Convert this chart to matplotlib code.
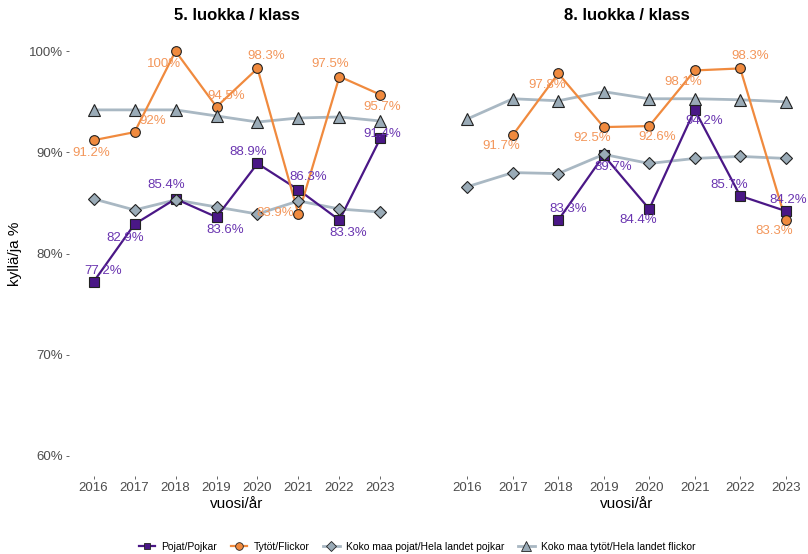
import numpy as np
import matplotlib
matplotlib.use("Agg")
import matplotlib.pyplot as plt
from matplotlib.lines import Line2D

plt.rcParams['font.family'] = ['Liberation Sans', 'DejaVu Sans']

years = [2016, 2017, 2018, 2019, 2020, 2021, 2022, 2023]
nan = np.nan

# 5. luokka / klass
g5_pojat = [77.2, 82.9, 85.4, 83.6, 88.9, 86.3, 83.3, 91.4]
g5_tytot = [91.2, 92.0, 100.0, 94.5, 98.3, 83.9, 97.5, 95.7]
g5_koko_pojat = [85.4, 84.3, 85.3, 84.6, 83.9, 85.2, 84.4, 84.1]
g5_koko_tytot = [94.2, 94.2, 94.2, 93.6, 93.0, 93.4, 93.5, 93.1]

# 8. luokka / klass
g8_pojat = [nan, nan, 83.3, 89.7, 84.4, 94.2, 85.7, 84.2]
g8_tytot = [nan, 91.7, 97.8, 92.5, 92.6, 98.1, 98.3, 83.3]
g8_koko_pojat = [86.6, 88.0, 87.9, 89.8, 88.9, 89.4, 89.6, 89.4]
g8_koko_tytot = [93.3, 95.3, 95.1, 96.0, 95.3, 95.3, 95.2, 95.0]

titles = ["5. luokka / klass", "8. luokka / klass"]
series_names = ["Pojat/Pojkar", "Tytöt/Flickor",
                "Koko maa pojat/Hela landet pojkar", "Koko maa tytöt/Hela landet flickor"]

# label offsets in points (dx, dy), purely for placement
off5_pojat = [(7, 8), (-7, -10), (-7, 10), (6, -9), (-7, 8), (7, 9), (6, -9), (1, 3)]
off5_tytot = [(-2, -9), (13, 8), (-8, -9), (7, 8), (6, 9), (-17, 1), (-7, 9), (1, -9)]
off8_pojat = [None, None, (7, 8), (7, -8), (-8, -8), (7, -8), (-8, 8), (2, 8)]
off8_tytot = [None, (-8, -8), (-8, -8), (-8, -8), (6, -8), (-8, -8), (7, 9), (-8, -8)]

purple = "#4a1786"
purple_txt = "#6a35b0"
orange = "#f08a3e"
orange_txt = "#f3965a"
grey_line = "#a9b8c3"
grey_fill = "#9aabb7"

fig = plt.figure(figsize=(8.08, 5.54), dpi=100)
ax1 = fig.add_axes([69 / 808, 78 / 554, 336 / 808, 445 / 554])
ax2 = fig.add_axes([440 / 808, 78 / 554, 373 / 808, 445 / 554])


def fmt(v):
    s = f"{v:.1f}"
    if s.endswith(".0"):
        s = s[:-2]
    return s + "%"


def draw(ax, pojat, tytot, kpojat, ktytot, offp, offt, title):
    ax.plot(years, kpojat, color=grey_line, lw=2.0, zorder=1)
    ax.plot(years, ktytot, color=grey_line, lw=2.0, zorder=1)
    ax.plot(years, pojat, color=purple, lw=1.6, zorder=2)
    ax.plot(years, tytot, color=orange, lw=1.6, zorder=2)
    ax.plot(years, pojat, ls="none", marker="s", ms=6.5, mfc=purple, mec="#222222", mew=0.8, zorder=3)
    ax.plot(years, tytot, ls="none", marker="o", ms=7, mfc=orange, mec="#222222", mew=0.8, zorder=3)
    ax.plot(years, kpojat, ls="none", marker="D", ms=6, mfc=grey_fill, mec="#222222", mew=0.8, zorder=4)
    ax.plot(years, ktytot, ls="none", marker="^", ms=8.5, mfc=grey_fill, mec="#222222", mew=0.8, zorder=4)
    for x, v, o in zip(years, pojat, offp):
        if o is None or np.isnan(v):
            continue
        ax.annotate(fmt(v), (x, v), xytext=o, textcoords="offset points",
                    ha="center", va="center", fontsize=9.5, color=purple_txt, zorder=5)
    for x, v, o in zip(years, tytot, offt):
        if o is None or np.isnan(v):
            continue
        ax.annotate(fmt(v), (x, v), xytext=o, textcoords="offset points",
                    ha="center", va="center", fontsize=9.5, color=orange_txt, zorder=5)
    ax.set_xlim(2015.4, 2023.6)
    ax.set_ylim(58, 102)
    ax.set_xticks(years)
    ax.set_xticklabels([str(y) for y in years])
    ax.set_yticks([60, 70, 80, 90, 100])
    ax.set_yticklabels(["60%", "70%", "80%", "90%", "100%"])
    for s in ax.spines.values():
        s.set_visible(False)
    ax.tick_params(axis="both", colors="#4d4d4d", labelsize=9.5, length=2.5, width=0.6, pad=2)
    ax.set_xlabel("vuosi/år", fontsize=11, labelpad=2)
    ax.set_title(title, fontsize=12, fontweight="bold", pad=8)


draw(ax1, g5_pojat, g5_tytot, g5_koko_pojat, g5_koko_tytot, off5_pojat, off5_tytot, titles[0])
draw(ax2, g8_pojat, g8_tytot, g8_koko_pojat, g8_koko_tytot, off8_pojat, off8_tytot, titles[1])
ax1.set_ylabel("kyllä/ja %", fontsize=11, labelpad=5)
ax2.tick_params(axis="y", left=False, labelleft=False)

handles = [
    Line2D([], [], color=purple, lw=1.6, marker="s", ms=5, mfc=purple, mec="#222222", mew=0.6),
    Line2D([], [], color=orange, lw=1.6, marker="o", ms=5.5, mfc=orange, mec="#222222", mew=0.6),
    Line2D([], [], color=grey_line, lw=2.0, marker="D", ms=5, mfc=grey_fill, mec="#222222", mew=0.6),
    Line2D([], [], color=grey_line, lw=2.0, marker="^", ms=6.5, mfc=grey_fill, mec="#222222", mew=0.6),
]
fig.legend(handles, series_names, loc="center", bbox_to_anchor=(417 / 808, 1 - 547 / 554),
           ncol=4, frameon=False, fontsize=7.5, handlelength=1.6, handletextpad=0.6,
           columnspacing=1.3)

fig.savefig("out.png", dpi=100)
